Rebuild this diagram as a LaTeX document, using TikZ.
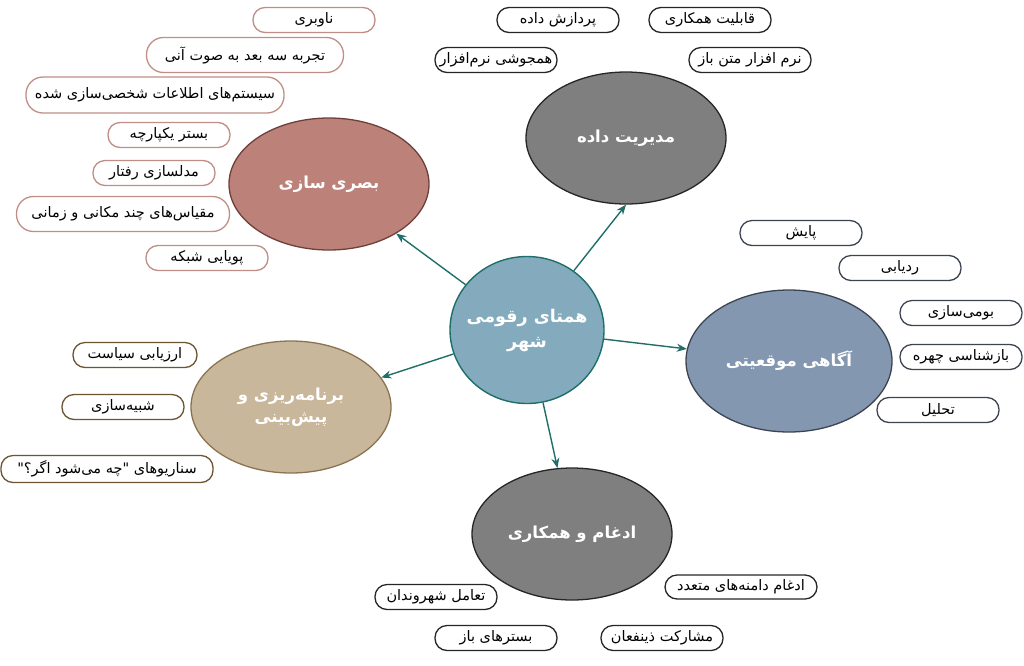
\documentclass[tikz,border=0pt]{standalone}
\usepackage{fontspec}
\usepackage{xcolor}
\usepackage{tikz}
\usetikzlibrary{arrows.meta,shapes.geometric}
\TeXXeTstate=1
\newfontfamily\fafont[Script=Arabic]{DejaVu Sans}
\newcommand{\fatext}[1]{{\fafont\beginR #1\endR}}
\definecolor{myteal}{HTML}{1E6E69}
\definecolor{mycity}{HTML}{84ABBD}
\definecolor{myrose}{HTML}{BC8279}
\definecolor{myrosedark}{HTML}{6E3F3A}
\definecolor{myroseleaf}{HTML}{C08E87}
\definecolor{mygray}{HTML}{7F7F7F}
\definecolor{mygraydark}{HTML}{262626}
\definecolor{myslate}{HTML}{8497B0}
\definecolor{myslatedark}{HTML}{3D4451}
\definecolor{mytan}{HTML}{C9B79C}
\definecolor{mytandark}{HTML}{8A7350}
\definecolor{mytanleaf}{HTML}{6B5532}

\begin{document}
\begin{tikzpicture}[
	x=1pt, y=-1pt,
	topic/.style={draw, ellipse, line width=1.3pt, minimum width=200, minimum height=132, inner sep=0, align=center, text=white, font=\fontsize{16.5}{22}\selectfont\bfseries},
	leaf/.style={draw, rectangle, rounded corners=12, line width=1.3pt, fill=white, minimum width=122, minimum height=25, inner sep=1, font=\fontsize{14.5}{16}\selectfont},
	arrow/.style={-{Stealth[length=10,width=8]}, line width=1.4pt, myteal}
]
\useasboundingbox (0,0) rectangle (1024,665);

% The hub and the topics
\node[draw=myteal, fill=mycity, ellipse, line width=1.4pt, minimum width=154, minimum height=147, inner xsep=-14, inner ysep=0, align=center, text=white, font=\fontsize{17.5}{25}\selectfont\bfseries] (city) at (527,330) {\fatext{همتای رقومی}\\\fatext{شهر}};
\node[topic, fill=myrose, draw=myrosedark] (visual) at (329,184) {\fatext{بصری سازی}};
\node[topic, fill=mygray, draw=mygraydark] (datamgmt) at (626,138) {\fatext{مدیریت داده}};
\node[topic, fill=myslate, draw=myslatedark, minimum width=206, minimum height=142] (location) at (789,361) {\fatext{آگاهی موقعیتی}};
\node[topic, fill=mytan, draw=mytandark] (planning) at (291,407) {\fatext{برنامه‌ریزی و}\\\fatext{پیش‌بینی}};
\node[topic, fill=mygray, draw=mygraydark] (integration) at (572,534) {\fatext{ادغام و همکاری}};

% The leaves of visual
\node[leaf, draw=myroseleaf] (vis1) at (314,20) {\fatext{ناوبری}};
\node[leaf, draw=myroseleaf, minimum width=197, minimum height=35, rounded corners=17] (vis2) at (245,55) {\fatext{تجربه سه بعد به صوت آنی}};
\node[leaf, draw=myroseleaf, minimum width=258, minimum height=36, rounded corners=17] (vis3) at (155,95) {\fatext{سیستم‌های اطلاعات شخصی‌سازی شده}};
\node[leaf, draw=myroseleaf] (vis4) at (169,135) {\fatext{بستر یکپارچه}};
\node[leaf, draw=myroseleaf] (vis5) at (154,173) {\fatext{مدلسازی رفتار}};
\node[leaf, draw=myroseleaf, minimum width=213, minimum height=35, rounded corners=17] (vis6) at (123,214) {\fatext{مقیاس‌های چند مکانی و زمانی}};
\node[leaf, draw=myroseleaf] (vis7) at (207,258) {\fatext{پویایی شبکه}};

% The leaves of data
\node[leaf, draw=mygraydark] (data1) at (558,20) {\fatext{پردازش داده}};
\node[leaf, draw=mygraydark] (data2) at (710,20) {\fatext{قابلیت همکاری}};
\node[leaf, draw=mygraydark] (data3) at (496,60) {\fatext{همجوشی نرم‌افزار}};
\node[leaf, draw=mygraydark] (data4) at (750,60) {\fatext{نرم افزار متن باز}};

% The leaves of location
\node[leaf, draw=myslatedark] (loc1) at (801,233) {\fatext{پایش}};
\node[leaf, draw=myslatedark] (loc2) at (900,268) {\fatext{ردیابی}};
\node[leaf, draw=myslatedark] (loc3) at (961,313) {\fatext{بومی‌سازی}};
\node[leaf, draw=myslatedark] (loc4) at (961,357) {\fatext{بازشناسی چهره}};
\node[leaf, draw=myslatedark] (loc5) at (938,410) {\fatext{تحلیل}};

% The leaves of planning
\node[leaf, draw=mytanleaf, minimum width=124] (plan1) at (135,355) {\fatext{ارزیابی سیاست}};
\node[leaf, draw=mytanleaf] (plan2) at (123,407) {\fatext{شبیه‌سازی}};
\node[leaf, draw=mytanleaf, minimum width=212, minimum height=27] (plan3) at (107,469) {\fatext{سناریوهای "چه می‌شود اگر؟"}};

% The leaves of integration
\node[leaf, draw=mygraydark] (int1) at (436,597) {\fatext{تعامل شهروندان}};
\node[leaf, draw=mygraydark] (int2) at (496,638) {\fatext{بسترهای باز}};
\node[leaf, draw=mygraydark, minimum width=152, minimum height=24] (int3) at (741,587) {\fatext{ادغام دامنه‌های متعدد}};
\node[leaf, draw=mygraydark] (int4) at (662,638) {\fatext{مشارکت ذینفعان}};

% The connections
\draw[arrow] (city) -- (visual);
\draw[arrow] (city) -- (datamgmt.south);
\draw[arrow] (city) -- (location);
\draw[arrow] (city) -- (planning);
\draw[arrow] (city) -- (integration);

\end{tikzpicture}
\end{document}
